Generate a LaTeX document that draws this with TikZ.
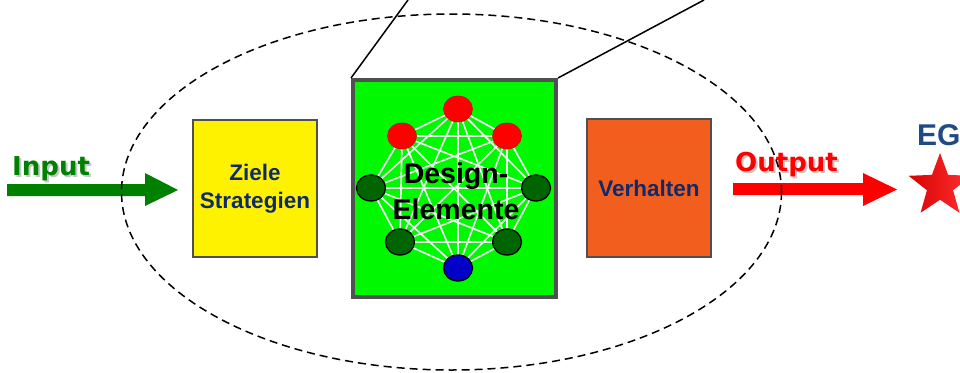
\documentclass[tikz,border=0pt]{standalone}
\usepackage{fontspec}
\setmainfont{Liberation Sans}
\newfontfamily\verd{DejaVu Sans}
\usetikzlibrary{shapes.geometric}
\pgfdeclarelayer{back}
\pgfdeclarelayer{edges}
\pgfsetlayers{back,edges,main}
\definecolor{navy}{HTML}{0F2A6A}
\definecolor{egblue}{HTML}{1F4A85}
\definecolor{ingreen}{HTML}{008000}
\definecolor{brightgreen}{HTML}{00F800}
\definecolor{orangebox}{HTML}{F25E1E}
\definecolor{darkgreennode}{HTML}{006400}
\definecolor{bluenode}{HTML}{0000C8}
\definecolor{boxborder}{HTML}{505050}
\newcommand{\shadowtext}[2]{\rlap{\hspace{2pt}\raisebox{-2pt}{\textcolor{black!22}{#2}}}\textcolor{#1}{#2}}
\tikzset{
  box/.style={draw=boxborder, line width=2pt, inner sep=0pt},
  boxtext/.style={font=\bfseries\fontsize{22.5}{28}\selectfont, text=navy, align=center},
  elem/.style={ellipse, minimum width=29pt, minimum height=26pt, inner sep=0pt, draw=black, line width=1.3pt},
  redelem/.style={elem, fill=red, draw=red!85!black, line width=0.6pt},
  greenelem/.style={elem, fill=darkgreennode},
  blueelem/.style={elem, fill=bluenode},
  link/.style={draw=white!94!black, line width=1.7pt},
  bigarrowtext/.style={font=\verd\bfseries\fontsize{26}{30}\selectfont, inner sep=0pt},
  cornerline/.style={draw=black, line width=1.5pt},
  system/.style={draw=black, dashed, dash pattern=on 8pt off 5pt, line width=1.5pt}
}
\begin{document}
\begin{tikzpicture}[x=1pt,y=-1pt]
\useasboundingbox (0,0) rectangle (960,372);
\clip (0,0) rectangle (960,372);

% boxes
\node[box, fill=yellow, minimum width=124pt, minimum height=137pt] (ziele) at (255,188.5) {};
\node[boxtext] (zieletext) at (255,189) {Ziele\\Strategien};
\node[box, fill=orangebox, minimum width=124pt, minimum height=138pt] (verhalten) at (649,188) {};
\node[boxtext] (verhaltentext) at (649,188) {Verhalten};
\begin{pgfonlayer}{back}
\node[draw=boxborder, line width=4pt, fill=brightgreen, minimum width=203pt, minimum height=217pt, inner sep=0pt] (design) at (454.5,188.5) {};
\end{pgfonlayer}

% corner lines
\coordinate (topL) at (408,0);
\coordinate (topR) at (704,0);
\draw[cornerline] (design.north west) -- (topL);
\draw[cornerline] (design.north east) -- (topR);

% element nodes
\node[redelem] (n1) at (458,109) {};
\node[redelem] (n2) at (402,136) {};
\node[redelem] (n3) at (507,136) {};
\node[greenelem] (n4) at (371,188) {};
\node[greenelem] (n5) at (536,188) {};
\node[greenelem] (n6) at (400,242) {};
\node[greenelem] (n7) at (507,242) {};
\node[blueelem] (n8) at (458,268) {};
\begin{pgfonlayer}{edges}
\foreach \i in {1,...,8}{
  \foreach \j in {\i,...,8}{
    \ifnum\i<\j
      \draw[link] (n\i.center) -- (n\j.center);
    \fi
  }
}
\end{pgfonlayer}
\node[font=\bfseries\fontsize{28.5}{36}\selectfont, text=black, align=center] (designtext) at (456,191) {Design-\\Elemente};

% input arrow
\coordinate (inA) at (7,184);
\coordinate (inB) at (145,184);
\coordinate (inC) at (145,173);
\coordinate (inD) at (178,190);
\coordinate (inE) at (145,206);
\coordinate (inF) at (145,196);
\coordinate (inG) at (7,196);
\fill[ingreen] (inA) -- (inB) -- (inC) -- (inD) -- (inE) -- (inF) -- (inG) -- cycle;
\node[bigarrowtext, anchor=base west] (input) at (12,175) {\shadowtext{ingreen}{Input}};

% output arrow
\coordinate (outA) at (733,183);
\coordinate (outB) at (863,183);
\coordinate (outC) at (863,173);
\coordinate (outD) at (897,189.5);
\coordinate (outE) at (863,206);
\coordinate (outF) at (863,195);
\coordinate (outG) at (733,195);
\fill[red] (outA) -- (outB) -- (outC) -- (outD) -- (outE) -- (outF) -- (outG) -- cycle;
\node[bigarrowtext, anchor=base west] (output) at (735,171.5) {\shadowtext{red}{Output}};

% star and EG
\node[star, star points=5, star point ratio=2.4, minimum size=66pt, inner sep=0pt, left color=red!85!black, right color=red!80!white, draw=none] (star) at (940,186) {};
\node[font=\bfseries\fontsize{30}{30}\selectfont, text=egblue, anchor=base west, inner sep=0pt] (eg) at (917,145) {EG};

% system boundary
\draw[system] (451.5,192) ellipse [x radius=330, y radius=178];
\end{tikzpicture}
\end{document}
